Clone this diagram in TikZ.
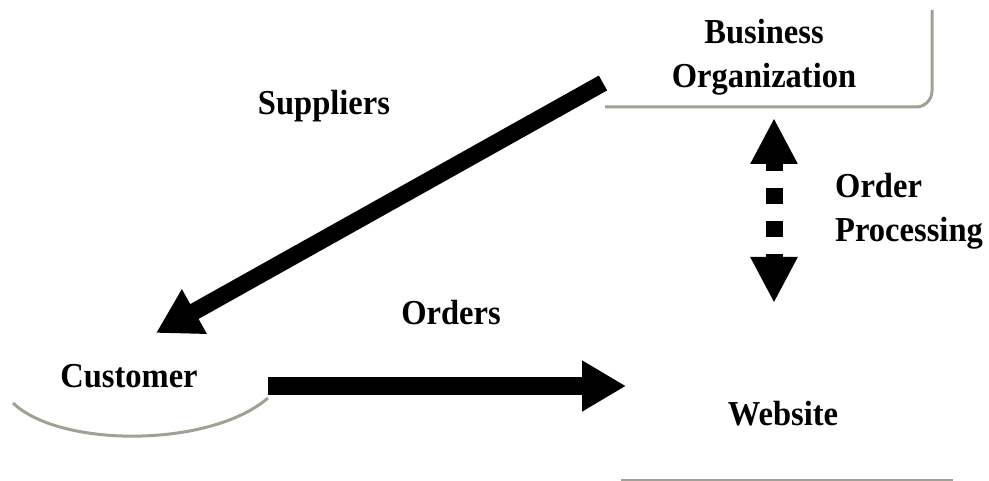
\documentclass[tikz,border=0pt]{standalone}
\usepackage{fontspec}
\setmainfont{Liberation Serif}[FakeStretch=0.93]
\usepackage{tikz}
\usetikzlibrary{arrows.meta,positioning}
\definecolor{edgegray}{RGB}{160,160,148}
\tikzset{
  label/.style={
  inner sep=0pt,
  font=\fontsize{35}{44}\selectfont\bfseries,
  },
  outline/.style={
  draw=edgegray,
  line width=3pt,
  },
  bigarrow/.style={
  line width=17pt,
  -{Triangle[width=48pt,length=44pt]},
  },
}

\begin{document}
\begin{tikzpicture}[x=1pt,y=-1pt]
\useasboundingbox (0,0) rectangle (989,481);

% the texts
\node[label,align=center](bus) at (764,57){Business \\ Organization};
\node[label,anchor=base](sup) at (324,115){Suppliers};
\node[label,anchor=base](cust) at (129,388){Customer};
\node[label,anchor=base](ord) at (451,325){Orders};
\node[label,anchor=base](web) at (783,425){Website};
\node[label,align=left,anchor=north west](proc) at (835,173){Order \\ Processing};

% the open outlines
\draw[outline,rounded corners=16pt] (605,107) -- (932,107) -- (932,10);
\draw[outline] (13,403) .. controls (60,448) and (210,448) .. (268,398);
\draw[outline,line width=2pt] (621,480) -- (953,480);

% end points of the arrows
\coordinate (bus out) at (603,83);
\coordinate (cust in) at (156,333);
\coordinate (cust out) at (268,386);
\coordinate (web in) at (626,386);
\coordinate (bus in) at (774,118);
\coordinate (web top) at (774,303);

% the arrows
\draw[bigarrow] (bus out) -- (cust in);
\draw[bigarrow] (cust out) -- (web in);
\draw[line width=17pt,dash pattern=on 16pt off 17pt,dash phase=6pt,
  {Triangle[width=44pt,length=46pt]}-{Triangle[width=44pt,length=46pt]}] (bus in) -- (web top);

\end{tikzpicture}
\end{document}
